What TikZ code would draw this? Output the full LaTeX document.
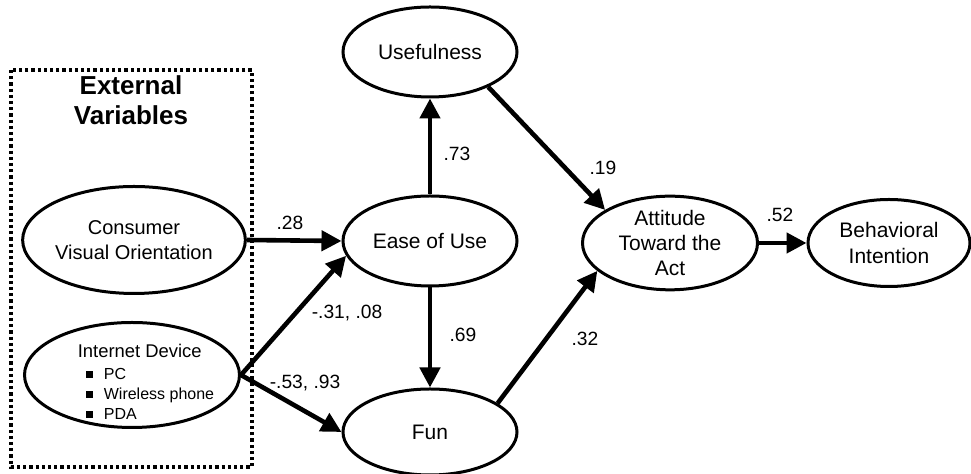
\documentclass[tikz,border=0pt]{standalone}
\usepackage{fontspec}
\setmainfont{Liberation Sans}
\usetikzlibrary{shapes.geometric,arrows.meta}
\newcommand{\sqbullet}{\hspace*{4pt}\rule[0.25ex]{3.5pt}{3.5pt}\hspace{5.5pt}}

\begin{document}
\begin{tikzpicture}[x=0.5pt,y=-0.5pt,
  var/.style={ellipse,draw,line width=1.5pt,inner sep=0pt,align=center,
    minimum width=87pt,minimum height=45pt,font=\fontsize{10.5}{12.7}\selectfont},
  link/.style={line width=2.3pt,-{Triangle[length=10pt,width=10pt]}},
  coef/.style={font=\fontsize{9.6}{11}\selectfont}]
\useasboundingbox (0,0) rectangle (971,474);
% external variables box
\draw[line width=1.6pt,dash pattern=on 1.6pt off 1.5pt] (11,70) rectangle (252,467);
\node[font=\bfseries\fontsize{13}{15}\selectfont,align=center] (ext) at (131,100) {External\\Variables};

\node[var,minimum width=107pt,minimum height=53.5pt,font=\fontsize{10}{12.5}\selectfont] (cvo) at (134,240) {Consumer\\Visual Orientation};
\node[var,minimum width=107.5pt,minimum height=52.5pt] (dev) at (132,375) {};
\node[align=left,inner sep=0pt,font=\fontsize{8}{10}\selectfont] (devtext) at (146,382)
  {{\fontsize{9.2}{11}\selectfont Internet Device}\\[1pt]
   \sqbullet PC\\ \sqbullet Wireless phone\\ \sqbullet PDA};

\node[var] (use) at (430,52) {Usefulness};
\node[var] (ease) at (430,241) {Ease of Use};
\node[var,minimum height=43pt] (fun) at (430,432) {Fun};
\node[var,minimum width=87.5pt,minimum height=44pt] (att) at (670,243) {Attitude\\Toward the\\Act};
\node[var,minimum width=81pt,minimum height=43.5pt] (bi) at (889,243) {Behavioral\\Intention};

% paths
\draw[link] (cvo.east) -- (ease.west);
\draw[link] (dev.east) -- (ease.190);
\draw[link] (dev.east) -- (fun.west);
\draw[link] (ease.north) -- (use.south);
\draw[link] (ease.south) -- (fun.north);
\draw[link] (use.-31) -- (att.153);
\draw[link] (fun.23) -- (att.201);
\draw[link] (att.east) -- (bi.west);

% coefficients
\node[coef] (c28) at (290,223) {.28};
\node[coef] (c31) at (347,313) {-.31, .08};
\node[coef] (c53) at (305,383) {-.53, .93};
\node[coef] (c69) at (463,335) {.69};
\node[coef] (c73) at (457,154) {.73};
\node[coef] (c19) at (603,168) {.19};
\node[coef] (c32) at (585,339) {.32};
\node[coef] (c52) at (780,215) {.52};
\end{tikzpicture}
\end{document}
